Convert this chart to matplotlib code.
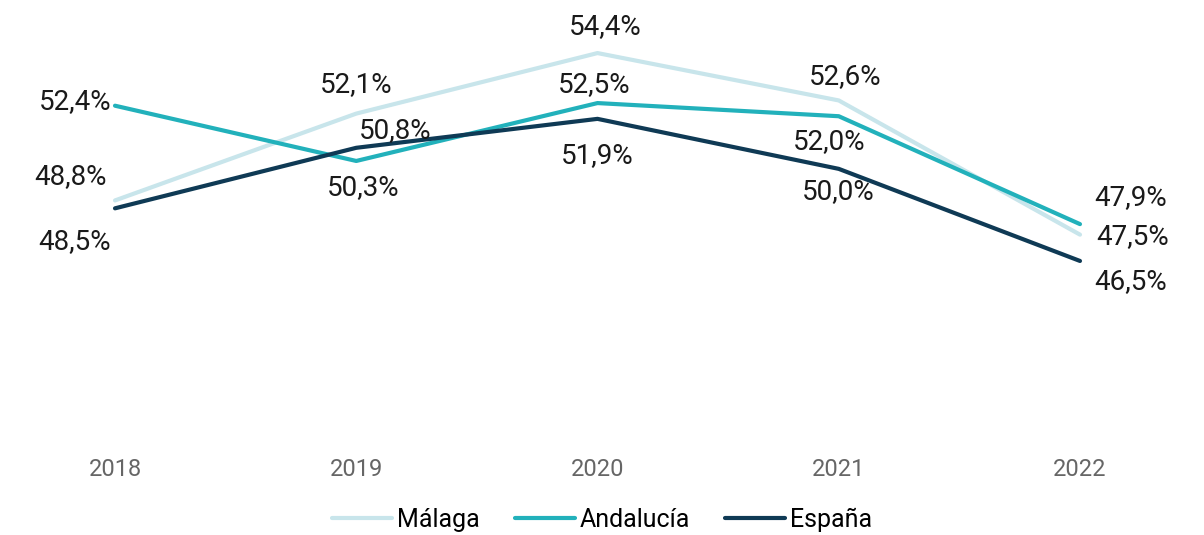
import matplotlib.pyplot as plt

years = ['2018', '2019', '2020', '2021', '2022']
malaga = [48.8, 52.1, 54.4, 52.6, 47.5]
andalucia = [52.4, 50.3, 52.5, 52.0, 47.9]
espana = [48.5, 50.8, 51.9, 50.0, 46.5]

# label offsets in pixels (dx, dy) for each point
off_malaga = [(-45, 24), (0, 29), (8, 27), (6, 24), (53, -2)]
off_andalucia = [(-40, 4), (7, -27), (-3, 19), (-10, -25), (51, 27)]
off_espana = [(-40, -33), (39, 17), (0, -37), (0, -23), (51, -21)]

plt.rcParams['font.family'] = ['Roboto', 'DejaVu Sans']

fig = plt.figure(figsize=(12.04, 5.35), dpi=100)
ax = fig.add_axes([0, 0.1925, 1, 0.787])

x = list(range(len(years)))
series = [
    ('Málaga', malaga, '#c8e5eb', off_malaga),
    ('Andalucía', andalucia, '#22b1bb', off_andalucia),
    ('España', espana, '#0f3a55', off_espana),
]
for name, vals, col, offs in series:
    ax.plot(x, vals, color=col, lw=3, label=name, solid_capstyle='round')
    for xi, v, (dx, dy) in zip(x, vals, offs):
        ax.annotate(f'{v:.1f}%'.replace('.', ','), (xi, v), xytext=(dx, dy),
                    textcoords='offset pixels', ha='center', va='center',
                    fontsize=20, color='#1a1a1a')

ax.set_xlim(-0.4767, 4.514)
ax.set_ylim(40, 56)
ax.set_xticks(x)
ax.set_xticklabels(years)
ax.set_yticks([])
ax.tick_params(axis='x', length=0, pad=19, labelsize=17, labelcolor='#666666')
for s in ax.spines.values():
    s.set_visible(False)

fig.legend(loc='center', bbox_to_anchor=(0.5, 15 / 535), ncol=3, frameon=False,
           fontsize=18, handlelength=2.4, handletextpad=0.2, columnspacing=1.4)

fig.savefig('out.png', dpi=100)
